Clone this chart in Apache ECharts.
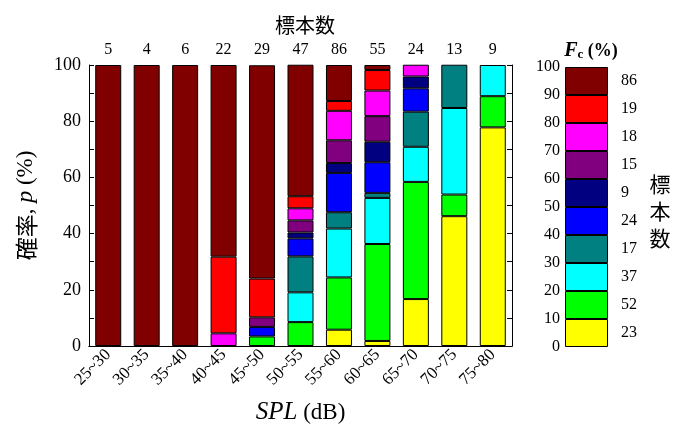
<!DOCTYPE html>
<html><head><meta charset="utf-8">
<script src="https://cdn.jsdelivr.net/npm/echarts@6/dist/echarts.min.js"></script>
<style>html,body{margin:0;padding:0;background:#fff}#c{width:682px;height:425px}</style>
</head><body><div id="c"></div>
<script>
// ---- data ----
const categories = ['25~30','30~35','35~40','40~45','45~50','50~55','55~60','60~65','65~70','70~75','75~80'];
const sampleCounts = [5, 4, 6, 22, 29, 47, 86, 55, 24, 13, 9];
// Fc band boundaries (%) and number of samples per band (legend)
const fcBounds = [0, 10, 20, 30, 40, 50, 60, 70, 80, 90, 100];
const fcTotals = [23, 52, 37, 17, 24, 9, 15, 18, 19, 86];
// probability p (%) of each Fc band, per SPL class
const fc0_10   = [0, 0, 0, 0, 0, 0, 5.8, 1.8, 16.7, 46.2, 77.8];
const fc10_20  = [0, 0, 0, 0, 3.4, 8.5, 18.6, 34.5, 41.7, 7.7, 11.1];
const fc20_30  = [0, 0, 0, 0, 0, 10.6, 17.4, 16.4, 12.5, 30.8, 11.1];
const fc30_40  = [0, 0, 0, 0, 0, 12.8, 5.8, 1.8, 12.5, 15.4, 0];
const fc40_50  = [0, 0, 0, 0, 3.4, 6.4, 14.0, 10.9, 8.3, 0, 0];
const fc50_60  = [0, 0, 0, 0, 0, 2.1, 3.5, 7.3, 4.2, 0, 0];
const fc60_70  = [0, 0, 0, 0, 3.4, 4.3, 8.1, 9.1, 0, 0, 0];
const fc70_80  = [0, 0, 0, 4.5, 0, 4.3, 10.5, 9.1, 4.2, 0, 0];
const fc80_90  = [0, 0, 0, 27.3, 13.8, 4.3, 3.5, 7.3, 0, 0, 0];
const fc90_100 = [100, 100, 100, 68.2, 75.9, 46.8, 12.8, 1.8, 0, 0, 0];
const yTicks = [0, 20, 40, 60, 80, 100];

// ---- styles ----
const bandSeries = [fc0_10, fc10_20, fc20_30, fc30_40, fc40_50, fc50_60, fc60_70, fc70_80, fc80_90, fc90_100];
const bandColors = ['#ffff00','#00ff00','#00ffff','#008080','#0000ff','#000080','#800080','#ff00ff','#ff0000','#800000'];
const SERIF = '"Liberation Serif","Times New Roman",serif';
const CJK = '"Noto Sans CJK JP","Noto Sans CJK SC",sans-serif';

const series = [];
bandSeries.forEach((arr, i) => {
  series.push({
    type: 'bar', stack: 'p', xAxisIndex: 0, yAxisIndex: 0,
    name: fcBounds[i] + '-' + fcBounds[i+1],
    barWidth: 26,
    data: arr.map(v => v === 0 ? '-' : v),
    itemStyle: { color: bandColors[i], borderColor: '#000', borderWidth: 1 },
    silent: true
  });
  series.push({
    type: 'bar', stack: 'legend', xAxisIndex: 2, yAxisIndex: 2,
    barWidth: '100%',
    data: [fcBounds[i+1] - fcBounds[i]],
    itemStyle: { color: bandColors[i], borderColor: '#000', borderWidth: 1 },
    label: { show: true, position: 'right', distance: 13, formatter: () => String(fcTotals[i]),
             fontFamily: SERIF, fontSize: 16, color: '#000' },
    silent: true
  });
});

const chart = echarts.init(document.getElementById('c'));
chart.setOption({
  animation: false,
  backgroundColor: '#fff',
  grid: [
    { left: 89, right: 170, top: 65, bottom: 79, outerBoundsMode: 'none', containLabel: false },
    { left: 565, width: 43, top: 67, bottom: 78, outerBoundsMode: 'none', containLabel: false }
  ],
  title: [
    { text: '標本数', left: 300, top: 10, textAlign: 'center',
      textStyle: { fontFamily: CJK, fontWeight: 'normal', fontSize: 20, color: '#000' } },
    { text: '{f|F}{c|c}{p| (%)}', left: 586, top: 36, textAlign: 'center',
      textStyle: { rich: {
        f: { fontFamily: SERIF, fontStyle: 'italic', fontSize: 20, color: '#000' },
        c: { fontFamily: SERIF, fontSize: 13, color: '#000', verticalAlign: 'bottom', padding: [6,0,0,0] },
        p: { fontFamily: SERIF, fontSize: 18, color: '#000' } } } },
    { text: '標\n本\n数', left: 655, top: 166, textAlign: 'center',
      textStyle: { fontFamily: CJK, fontWeight: 'normal', fontSize: 21, lineHeight: 27, color: '#000' } }
  ],
  xAxis: [
    { type: 'category', gridIndex: 0, data: categories, position: 'bottom',
      axisLine: { lineStyle: { color: '#000' } }, axisTick: { show: false },
      axisLabel: { rotate: 45, fontFamily: SERIF, fontSize: 17, color: '#000', margin: 6, interval: 0,
        padding: [0, 0, 0, 0] },
      name: '{i|SPL}{n| (dB)}', nameLocation: 'middle', nameGap: 54,
      nameTextStyle: { rich: {
        i: { fontFamily: SERIF, fontStyle: 'italic', fontSize: 25, color: '#000' },
        n: { fontFamily: SERIF, fontSize: 23, color: '#000' } } } },
    { type: 'category', gridIndex: 0, data: sampleCounts.map(String), position: 'top',
      axisLine: { lineStyle: { color: '#000' } }, axisTick: { show: false },
      axisLabel: { fontFamily: SERIF, fontSize: 16, color: '#000', margin: 7, interval: 0 } },
    { type: 'category', gridIndex: 1, data: [''], show: false }
  ],
  yAxis: [
    { type: 'value', gridIndex: 0, min: 0, max: 100, interval: 20,
      axisLine: { show: true, lineStyle: { color: '#000' } },
      axisTick: { show: true, inside: true, length: 5, lineStyle: { color: '#000' } },
      minorTick: { show: true, splitNumber: 2, length: 5, lineStyle: { color: '#000' } },
      splitLine: { show: false },
      axisLabel: { fontFamily: SERIF, fontSize: 18, color: '#000', margin: 8,
        formatter: v => yTicks.includes(v) ? String(v) : '' },
      name: '{c|確率}{n|, }{i|p}{n| (%)}', nameLocation: 'middle', nameGap: 51, nameRotate: 90,
      nameTextStyle: { rich: {
        c: { fontFamily: CJK, fontSize: 23, color: '#000' },
        i: { fontFamily: SERIF, fontStyle: 'italic', fontSize: 24, color: '#000' },
        n: { fontFamily: SERIF, fontSize: 23, color: '#000' } } } },
    { type: 'value', gridIndex: 0, min: 0, max: 100, interval: 10, position: 'right',
      axisLine: { show: true, lineStyle: { color: '#000' } },
      axisTick: { show: true, inside: true, length: 5, lineStyle: { color: '#000' } },
      splitLine: { show: false }, axisLabel: { show: false } },
    { type: 'value', gridIndex: 1, min: 0, max: 100, interval: 10,
      axisLine: { show: false }, axisTick: { show: false }, splitLine: { show: false },
      axisLabel: { fontFamily: SERIF, fontSize: 16, color: '#000', margin: 5 } }
  ],
  series: series
});
</script>
</body></html>
